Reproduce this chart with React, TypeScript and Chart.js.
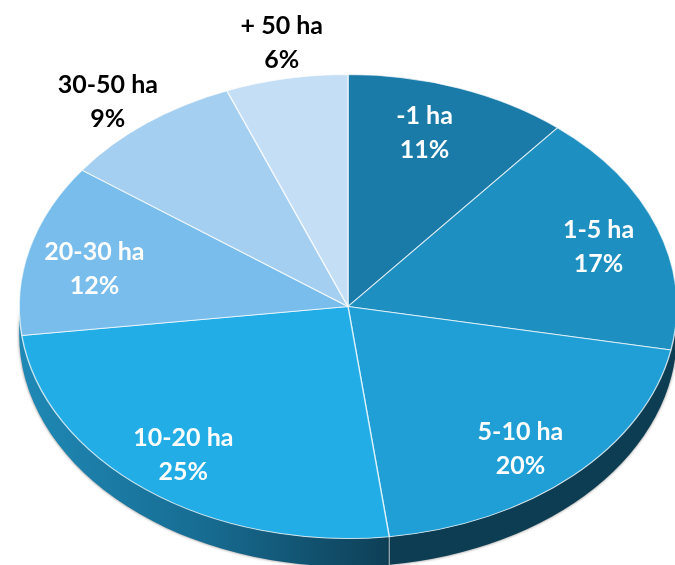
import React, { useEffect, useRef } from "react";
import { Chart, registerables } from "chart.js";

Chart.register(...registerables);

const categories = ["-1 ha", "1-5 ha", "5-10 ha", "10-20 ha", "20-30 ha", "30-50 ha", "+ 50 ha"];
const shares = [11, 17, 20, 25, 12, 9, 6];
const sliceColors = ["#1a7aa8", "#1d8fc0", "#209fd6", "#22ade6", "#78bdeb", "#a5cff0", "#c3def5"];
const labelColors = ["#fff", "#fff", "#fff", "#fff", "#fff", "#000", "#000"];
const labelNudges = [[-7, -10], [18.5, -0.5], [3.6, 15.5], [-13.5, 11], [-14.7, 5.8], [-89, -67.5], [-20, -92.5]];

const STRETCH_X = 329.5 / 232.5;
const DEPTH = 28;
const SEAM_SLICE = 3;

function wallPath(ctx: CanvasRenderingContext2D, cx: number, cy: number, rx: number, ry: number, a: number, b: number) {
  ctx.beginPath();
  ctx.ellipse(cx, cy, rx, ry, 0, a, b);
  ctx.ellipse(cx, cy + DEPTH, rx, ry, 0, b, a, true);
  ctx.closePath();
}

const pie3d = {
  id: "pie3d",
  beforeDatasetsDraw(chart: any) {
    const ctx: CanvasRenderingContext2D = chart.ctx;
    const arcs = chart.getDatasetMeta(0).data;
    const { x: cx, y: cy, outerRadius: r } = arcs[0];
    const rx = r * STRETCH_X;
    const seam = arcs[SEAM_SLICE].startAngle;
    ctx.save();
    ctx.shadowColor = "rgba(0,0,0,0.55)";
    ctx.shadowBlur = 3;
    const grad = ctx.createLinearGradient(cx - rx, 0, cx + rx * Math.cos(seam), 0);
    grad.addColorStop(0, "#1f89b6");
    grad.addColorStop(0.5, "#176c92");
    grad.addColorStop(1, "#0e3f56");
    wallPath(ctx, cx, cy, rx, r, seam, Math.PI);
    ctx.fillStyle = grad;
    ctx.fill();
    wallPath(ctx, cx, cy, rx, r, 0, seam);
    ctx.fillStyle = "#0c3d53";
    ctx.fill();
    ctx.shadowColor = "transparent";
    const sx = cx + rx * Math.cos(seam);
    const sy = cy + r * Math.sin(seam);
    ctx.beginPath();
    ctx.moveTo(sx, sy);
    ctx.lineTo(sx, sy + DEPTH);
    ctx.strokeStyle = "rgba(255,255,255,0.7)";
    ctx.lineWidth = 1;
    ctx.stroke();
    ctx.restore();

    ctx.save();
    ctx.translate(cx, 0);
    ctx.scale(STRETCH_X, 1);
    ctx.translate(-cx, 0);
  },
  afterDatasetsDraw(chart: any) {
    const ctx: CanvasRenderingContext2D = chart.ctx;
    ctx.restore();
    const arcs = chart.getDatasetMeta(0).data;
    ctx.save();
    ctx.font = "bold 25px Lato, Carlito, sans-serif";
    ctx.textAlign = "center";
    ctx.textBaseline = "middle";
    arcs.forEach((arc: any, i: number) => {
      const mid = (arc.startAngle + arc.endAngle) / 2;
      const x = arc.x + 0.75 * arc.outerRadius * STRETCH_X * Math.cos(mid) + labelNudges[i][0];
      const y = arc.y + 0.75 * arc.outerRadius * Math.sin(mid) + labelNudges[i][1];
      ctx.fillStyle = labelColors[i];
      ctx.fillText(categories[i], x, y - 17);
      ctx.fillText(`${shares[i]}%`, x, y + 17);
    });
    ctx.restore();
  },
};

export default function App() {
  const ref = useRef<HTMLCanvasElement>(null);
  useEffect(() => {
    const chart = new Chart(ref.current!, {
      type: "pie",
      data: {
        labels: categories,
        datasets: [
          {
            data: shares,
            backgroundColor: sliceColors,
            borderColor: "rgba(255,255,255,0.7)",
            borderWidth: 1,
            clip: false,
          } as any,
        ],
      },
      options: {
        responsive: false,
        animation: false,
        events: [],
        layout: { padding: { left: 115.5, right: 94.5, top: 74, bottom: 26 } },
        plugins: { legend: { display: false }, tooltip: { enabled: false } },
      },
      plugins: [pie3d],
    });
    return () => chart.destroy();
  }, []);
  return (
    <canvas
      ref={ref}
      width={675}
      height={565}
      style={{ position: "absolute", left: 0, top: 0, display: "block", width: 675, height: 565 }}
    />
  );
}
